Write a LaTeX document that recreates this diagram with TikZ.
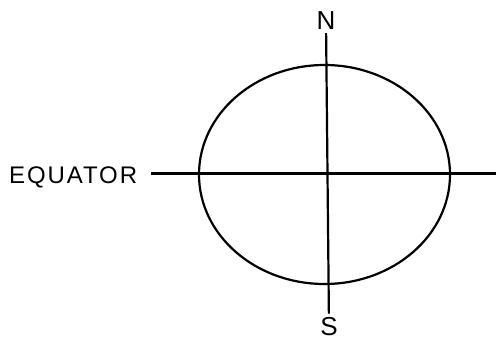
\documentclass[tikz,border=0pt]{standalone}
\usepackage{fontspec}
\setmainfont{Liberation Sans}
\usetikzlibrary{shapes.geometric,positioning}
\tikzset{
 globe/.style={draw=black,ellipse,line width=2.2pt,minimum width=251pt,minimum height=219pt,inner sep=0pt},
 pole/.style={font=\fontsize{26}{26}\selectfont,inner sep=3pt},
 tag/.style={font=\fontsize{24}{24}\selectfont\addfontfeature{LetterSpace=8},inner sep=0pt},
 axis/.style={line width=2.2pt,draw=black}
}
\begin{document}
\begin{tikzpicture}[x=1pt,y=-1pt]
\useasboundingbox (0,0) rectangle (496,340);
\node[globe] (earth) at (324.5,174.5) {};
\node[pole,anchor=base] (n) at (326,30) {N};
\node[pole,anchor=base] (s) at (329,335) {S};
\node[tag,anchor=base west] (eq) at (9,183) {EQUATOR};
\coordinate (edge) at (496,173.5);
\draw[axis] (n) -- (s);
\draw[axis,shorten <=14pt] (eq.east |- edge) -- (edge);
\end{tikzpicture}
\end{document}
